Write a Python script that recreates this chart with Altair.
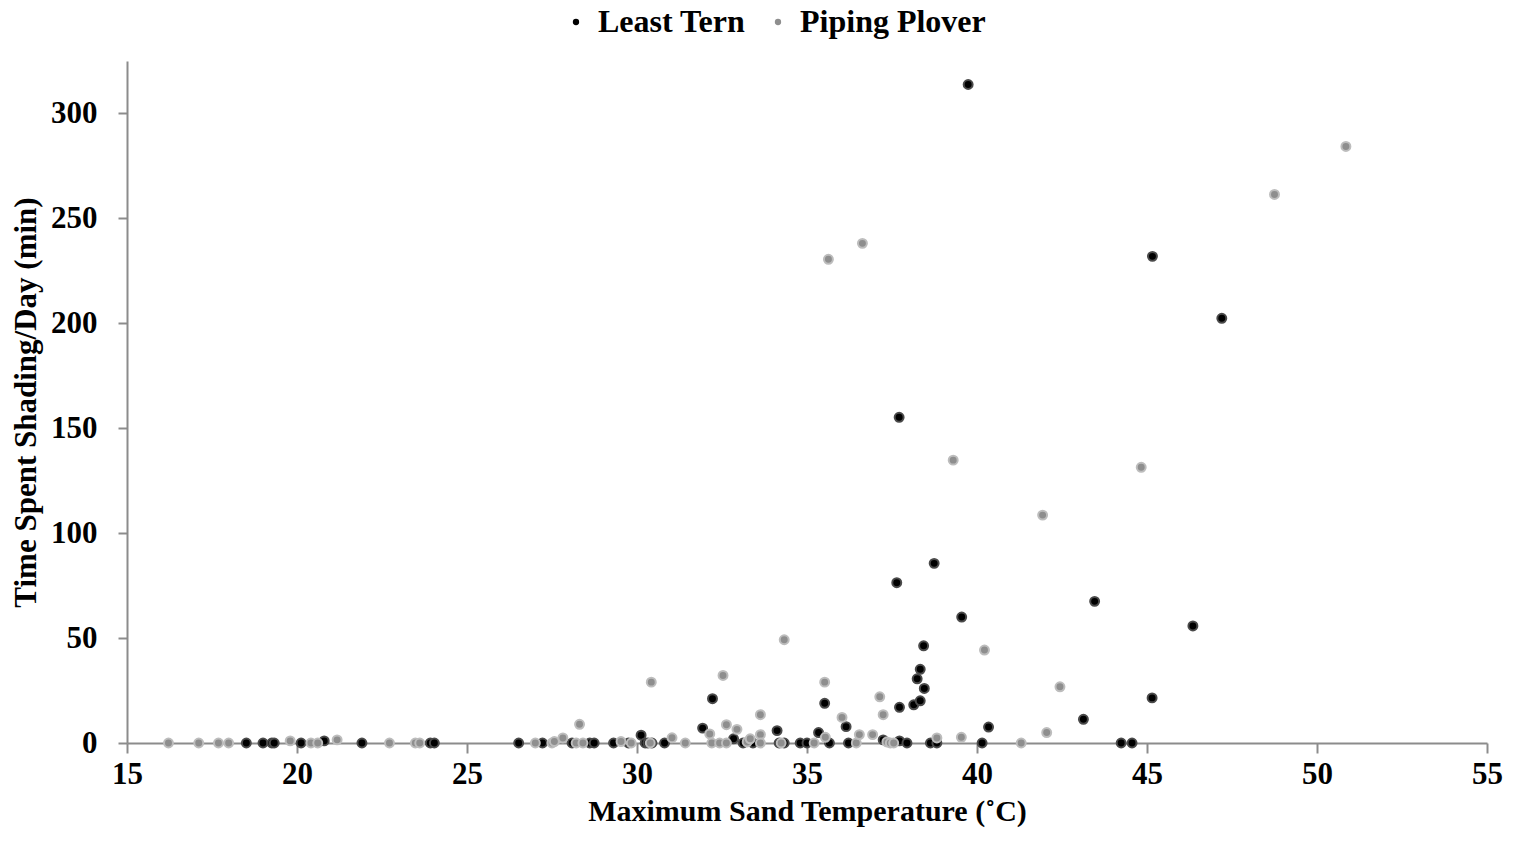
import altair as alt
import pandas as pd

# Least Tern (black)
lt_x = [18.51, 19.0, 19.26, 19.33, 20.12, 20.80, 21.91, 23.92, 24.04, 26.52, 27.22, 28.09, 28.61, 28.74,
        29.31, 29.75, 30.12, 30.24, 30.32, 30.44, 30.81, 31.93, 32.22, 32.84, 33.12, 33.41, 34.12, 34.18,
        34.33, 34.8, 35.0, 35.34, 35.52, 35.66, 36.15, 36.22, 37.24, 37.72, 37.94, 37.72, 38.14, 38.33,
        38.45, 38.24, 38.33, 38.43, 38.63, 38.82, 40.15, 40.34, 37.64, 38.74, 39.55, 39.74, 37.71, 43.13,
        43.46, 44.24, 44.56, 45.15, 46.35, 45.16, 47.2]
lt_y = [0, 0, 0, 0, 0, 1, 0, 0, 0, 0, 0, 0, 0, 0,
        0, 0, 3.7, 0, 0, 0, 0, 7.1, 21.1, 2, 0, 0, 5.9, 0,
        0, 0, 0, 5, 18.9, 0, 7.8, 0, 1.5, 1, 0, 17, 18.2, 20.1,
        26, 30.6, 35.1, 46.3, 0, 0, 0, 7.6, 76.4, 85.6, 60, 313.8, 155.2, 11.3,
        67.5, 0, 0, 21.5, 55.8, 231.9, 202.4]

# Piping Plover (gray)
pp_x = [16.22, 17.11, 17.69, 17.99, 19.80, 20.41, 20.61, 21.18, 22.72, 23.48, 23.61, 27.01, 27.5, 27.57,
        27.82, 28.31, 28.21, 28.41, 29.53, 29.83, 30.39, 30.42, 31.03, 31.42, 32.14, 32.2, 32.43, 32.63,
        32.53, 32.63, 32.94, 33.24, 33.33, 33.63, 33.63, 33.63, 34.24, 34.33, 35.21, 35.52, 35.54, 36.03,
        36.45, 36.54, 36.93, 37.14, 37.24, 37.35, 37.45, 37.55, 38.82, 39.54, 40.22, 41.3, 42.05, 42.44,
        36.63, 35.63, 39.3, 44.83, 41.93, 48.75, 50.85]
pp_y = [0, 0, 0, 0, 1, 0, 0, 1.5, 0, 0, 0, 0, 0, 0.7,
        2.4, 8.9, 0, 0, 0.7, 0, 0, 29, 2.5, 0, 4.3, 0, 0, 0,
        32.2, 8.7, 6.5, 0.5, 2, 13.5, 4, 0, 0, 49.2, 0, 29, 2.7, 12.2,
        0, 4, 4, 22, 13.5, 0.5, 0, 0, 2.4, 2.7, 44.3, 0, 5, 26.8,
        238.1, 230.5, 134.8, 131.4, 108.6, 261.4, 284.3]

species = ["Least Tern", "Piping Plover"]
x_ticks = [15, 20, 25, 30, 35, 40, 45, 50, 55]
y_ticks = [0, 50, 100, 150, 200, 250, 300]

df = pd.concat([
    pd.DataFrame({"temp": lt_x, "shade": lt_y, "species": species[0]}),
    pd.DataFrame({"temp": pp_x, "shade": pp_y, "species": species[1]}),
], ignore_index=True)
df["order"] = range(len(df))

FONT = "Liberation Serif"

chart = alt.Chart(df).mark_point(filled=True, size=80, strokeWidth=2, opacity=1).encode(
    x=alt.X("temp:Q", scale=alt.Scale(domain=[15, 55], nice=False, zero=False),
            axis=alt.Axis(values=x_ticks, title="Maximum Sand Temperature (˚C)", grid=False,
                          tickSize=10, labelPadding=6, titlePadding=7, format="d",
                          labelFlush=False, titleFontSize=30)),
    y=alt.Y("shade:Q", scale=alt.Scale(domain=[0, 325], nice=False),
            axis=alt.Axis(values=y_ticks, title="Time Spent Shading/Day (min)", grid=False,
                          tickSize=9, labelPadding=21, titlePadding=8, format="d",
                          labelFlush=False)),
    fill=alt.Fill("species:N", scale=alt.Scale(domain=species, range=["#000000", "#8e8e8e"]),
                  legend=alt.Legend(title=None, orient="none", direction="horizontal",
                                    legendX=433, legendY=-55, symbolType="circle", symbolSize=40,
                                    symbolStrokeWidth=0, labelFont=FONT, labelFontSize=32,
                                    labelFontWeight="bold", labelColor="#000", columnPadding=16,
                                    labelOffset=6, labelLimit=400)),
    stroke=alt.Stroke("species:N", scale=alt.Scale(domain=species, range=["#4a4a4a", "#bdbdbd"]),
                      legend=None),
    order=alt.Order("order:Q"),
).properties(
    width=1360, height=682,
    background="white",
    autosize=alt.AutoSizeParams(type="none"),
    padding={"left": 127, "top": 61, "right": 26, "bottom": 100},
).configure_view(stroke=None).configure_axis(
    domainColor="#8c8c8c", domainWidth=2, tickColor="#8c8c8c", tickWidth=2,
    labelFont=FONT, labelFontSize=31, labelFontWeight="bold", labelColor="#000",
    titleFont=FONT, titleFontSize=31, titleFontWeight="bold", titleColor="#000",
)

chart.save("out.html", embed_options={"renderer": "svg", "actions": False})
